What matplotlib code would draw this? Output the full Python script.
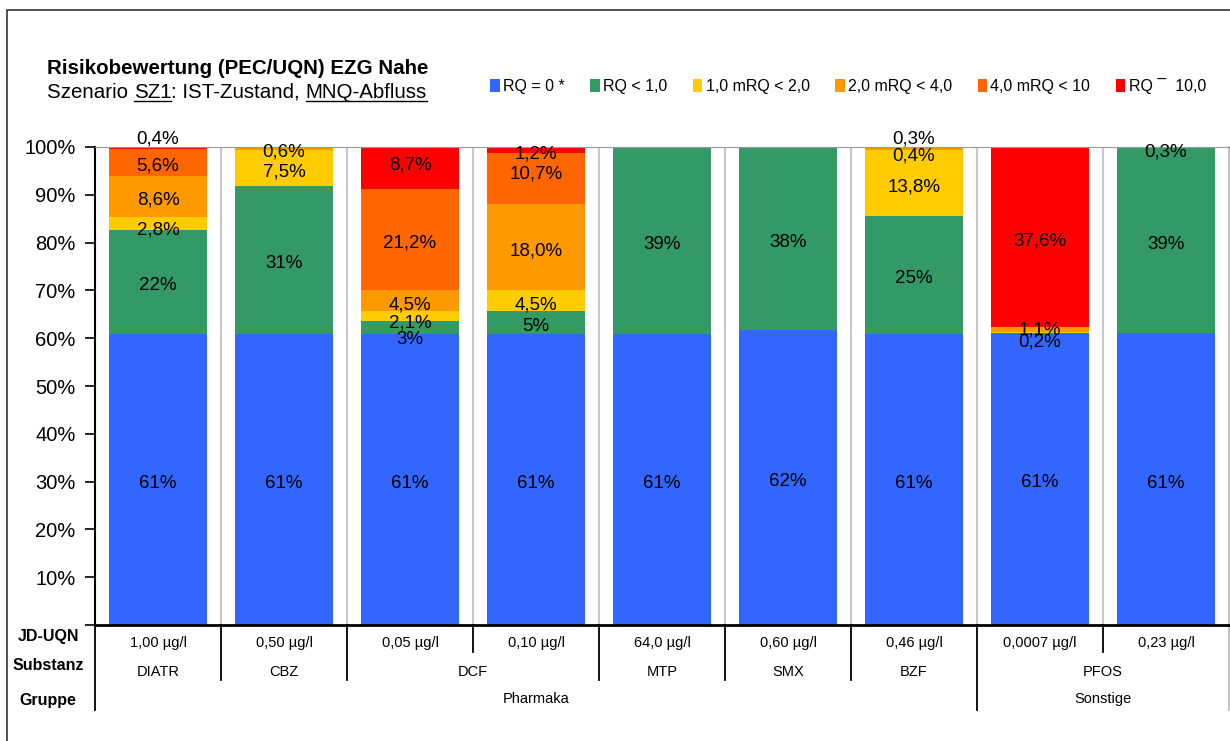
import numpy as np
import matplotlib.pyplot as plt
from matplotlib.patches import Patch, Rectangle
from matplotlib.transforms import blended_transform_factory

plt.rcParams['font.family'] = ['Liberation Sans', 'DejaVu Sans']

substances = ['DIATR', 'CBZ', 'DCF', 'DCF', 'MTP', 'SMX', 'BZF', 'PFOS', 'PFOS']
jd_uqn = ['1,00 µg/l', '0,50 µg/l', '0,05 µg/l', '0,10 µg/l', '64,0 µg/l',
          '0,60 µg/l', '0,46 µg/l', '0,0007 µg/l', '0,23 µg/l']
groups = ['Pharmaka'] * 7 + ['Sonstige'] * 2

series_names = ['RQ = 0 *', 'RQ < 1,0', '1,0 mRQ < 2,0', '2,0 mRQ < 4,0',
                '4,0 mRQ < 10', 'RQ ¯  10,0']
rq0 = [60.9, 60.9, 60.9, 60.9, 60.9, 61.7, 60.9, 61.1, 61.0]
rq1 = [21.7, 31.0, 2.6, 4.7, 39.1, 38.3, 24.6, 0.0, 38.7]
rq2 = [2.8, 7.5, 2.1, 4.5, 0.0, 0.0, 13.8, 0.2, 0.3]
rq4 = [8.6, 0.6, 4.5, 18.0, 0.0, 0.0, 0.4, 1.1, 0.0]
rq10 = [5.6, 0.0, 21.2, 10.7, 0.0, 0.0, 0.3, 0.0, 0.0]
rqx = [0.4, 0.0, 8.7, 1.2, 0.0, 0.0, 0.0, 37.6, 0.0]
series = [rq0, rq1, rq2, rq4, rq10, rqx]
colors = ['#3366FF', '#339966', '#FFCC00', '#FF9900', '#FF6600', '#FF0000']

# manual nudges of overlapping labels (bar, series) -> shift in %
nudge = {(0, 5): 2.6, (0, 2): -0.6, (2, 5): 1.3, (2, 1): -1.6, (2, 2): -0.5,
         (3, 4): 1.8, (6, 4): 2.7, (6, 3): -0.6, (7, 2): -1.2, (7, 3): 0.6,
         (8, 2): -0.1}

fig = plt.figure(figsize=(12.3, 7.41), dpi=100)
ax = fig.add_axes([95 / 1230, 1 - 625 / 741, 1134 / 1230, 478 / 741])

x = np.arange(len(substances))
bottom = np.zeros(len(substances))
for s, (vals, col) in enumerate(zip(series, colors)):
    vals = np.array(vals)
    ax.bar(x, vals, 0.77, bottom=bottom, color=col, zorder=2)
    for i, v in enumerate(vals):
        if v <= 0:
            continue
        if s < 2:
            lab = f'{round(v):.0f}%'
        else:
            lab = f'{v:.1f}'.replace('.', ',') + '%'
        y = bottom[i] + v / 2 + nudge.get((i, s), 0) - 0.8
        ax.text(i, y, lab, ha='center', va='center', fontsize=13.5, zorder=3)
    bottom += vals

ax.set_xlim(-0.5, len(substances) - 0.5)
ax.set_ylim(0, 100)
ax.set_yticks(np.arange(0, 101, 10))
ax.set_yticklabels([''] + [f'{t}%' for t in range(10, 101, 10)], fontsize=14.5)
ax.tick_params(axis='y', direction='out', length=7, width=1.2, pad=7)
ax.set_xticks([])
for xs in np.arange(0.5, len(substances), 1.0):
    ax.axvline(xs, color='#C8C8C8', lw=1.5, zorder=1)
ax.spines['top'].set_color('#999999')
ax.spines['right'].set_visible(False)
ax.spines['left'].set_linewidth(1.5)
ax.spines['bottom'].set_linewidth(2)

# table below the chart
tr = blended_transform_factory(ax.transData, ax.transAxes)
y_jd, y_sub, y_grp = -0.038, -0.098, -0.155
for i, t in enumerate(jd_uqn):
    ax.text(i, y_jd, t, transform=tr, ha='center', va='center', fontsize=10.5)

def spans(labels):
    out, start = [], 0
    for i in range(1, len(labels) + 1):
        if i == len(labels) or labels[i] != labels[start]:
            out.append((start, i - 1, labels[start]))
            start = i
    return out

for a, b, lab in spans(substances):
    ax.text((a + b) / 2, y_sub, lab, transform=tr, ha='center', va='center', fontsize=10.5)
for a, b, lab in spans(groups):
    ax.text((a + b) / 2, y_grp, lab, transform=tr, ha='center', va='center', fontsize=10.5)

sub_bounds = {b + 0.5 for a, b, _ in spans(substances)}
grp_bounds = {b + 0.5 for a, b, _ in spans(groups)}
for xs in np.arange(0.5, len(substances) - 1, 1.0):
    if xs in grp_bounds:
        yend = -0.178
    elif xs in sub_bounds:
        yend = -0.115
    else:
        yend = -0.057
    ax.plot([xs, xs], [0, yend], transform=tr, color='black', lw=1.3, clip_on=False)
ax.plot([-0.5, -0.5], [0, -0.178], transform=tr, color='black', lw=1.3, clip_on=False)
ax.plot([8.5, 8.5], [1, -0.178], transform=tr, color='#BBBBBB', lw=1.3, clip_on=False)

for lab, yp in [('JD-UQN', 636), ('Substanz', 666), ('Gruppe', 700)]:
    fig.text(48 / 1230, 1 - yp / 741, lab, ha='center', va='center',
             fontsize=11.5, fontweight='bold')

# outer frame
fig.patches.append(Rectangle((7 / 1230, -0.1), 1.2, 1 - 10 / 741 + 0.1,
                             transform=fig.transFigure, fill=False,
                             edgecolor='#333333', lw=1.2))

# titles
fig.text(47 / 1230, 1 - 68 / 741, 'Risikobewertung (PEC/UQN) EZG Nahe',
         fontsize=14.8, fontweight='bold', va='center')
parts = [('Szenario ', False), ('SZ1', True), (': IST-Zustand, ', False),
         ('MNQ-Abfluss', True)]
fig.canvas.draw()
r = fig.canvas.get_renderer()
xp = 47
for txt, ul in parts:
    t = fig.text(xp / 1230, 1 - 92 / 741, txt, fontsize=14.8, va='center')
    bb = t.get_window_extent(r)
    if ul:
        yl = bb.y0 + 1
        fig.add_artist(plt.Line2D([bb.x0 / 1230, bb.x1 / 1230],
                                  [yl / 741, yl / 741], color='black', lw=1))
    xp = bb.x1

handles = [Patch(facecolor=c, edgecolor='none') for c in colors]
fig.legend(handles, series_names, loc='center', bbox_to_anchor=(848 / 1230, 1 - 86 / 741),
           ncol=6, frameon=False, fontsize=11.5, handlelength=0.6, handleheight=0.8,
           handletextpad=0.2, columnspacing=1.6)

fig.savefig('out.png', dpi=100)
